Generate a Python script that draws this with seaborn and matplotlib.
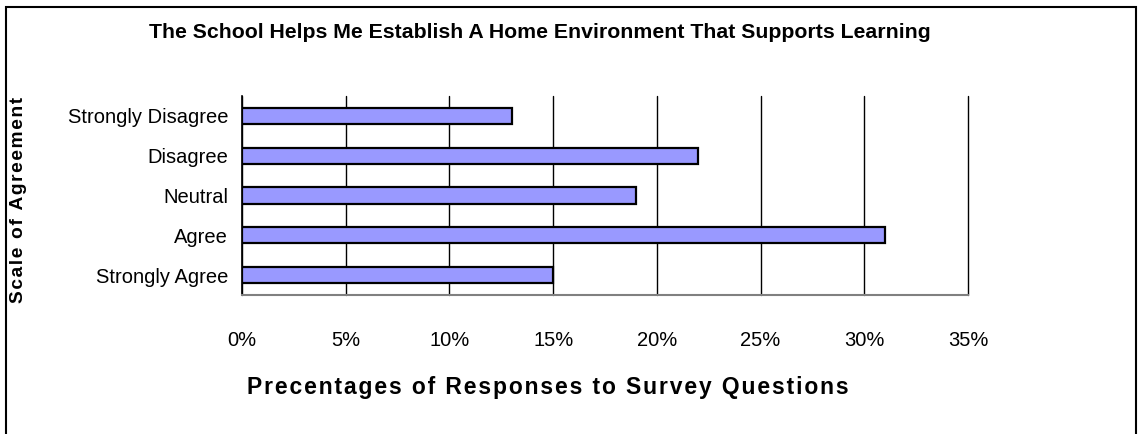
import numpy as np
import pandas as pd
import seaborn as sns
import matplotlib.pyplot as plt
from matplotlib.patches import Rectangle
from matplotlib.ticker import FixedLocator

categories = ["Strongly Disagree", "Disagree", "Neutral", "Agree", "Strongly Agree"]
percentages = [13, 22, 19, 31, 15]
x_ticks = [0, 5, 10, 15, 20, 25, 30, 35]
x_tick_labels = ["0%", "5%", "10%", "15%", "20%", "25%", "30%", "35%"]

df = pd.DataFrame({"category": categories, "pct": percentages})

sns.set_style("white")
plt.rcParams['font.family'] = ['Liberation Sans', 'DejaVu Sans']
plt.rcParams['text.color'] = 'black'
plt.rcParams['axes.labelcolor'] = 'black'


def spaced(s):
    # mimic the loose letter spacing of the original labels
    return "\u200a".join(s)


fig = plt.figure(figsize=(11.38, 4.34), dpi=100)
ax = fig.add_axes([0.2127, 0.3203, 0.8506 - 0.2127, 0.7788 - 0.3203])

sns.barplot(data=df, y="category", x="pct", orient="h", order=categories,
            color="#9999FF", saturation=1, width=0.41,
            edgecolor="black", linewidth=1.6, ax=ax, zorder=3)

ax.set_xlim(0, 35)
ax.set_ylim(4.5, -0.5)
ax.set_xticks(x_ticks)
ax.set_xticklabels(x_tick_labels, fontsize=14.5)
ax.tick_params(axis="x", length=5, width=1, color="#808080", pad=21, labelcolor="black")

# category labels, ticks on the boundaries between bars
ax.set_yticks(range(len(categories)))
ax.set_yticklabels(categories, fontsize=14.5)
ax.tick_params(axis="y", which="major", length=0, pad=10, labelcolor="black")
ax.yaxis.set_minor_locator(FixedLocator(np.arange(-0.5, 4.6, 1.0)))
ax.tick_params(axis="y", which="minor", length=5, width=1, color="black")

ax.grid(axis="x", color="black", linewidth=1, zorder=0)
for gl in ax.get_xgridlines():
    gl.set_clip_on(False)
for s in ["top", "right"]:
    ax.spines[s].set_visible(False)
ax.spines["left"].set_color("black")
ax.spines["left"].set_linewidth(1.2)
ax.spines["bottom"].set_color("#808080")
ax.spines["bottom"].set_linewidth(1.5)

ax.set_xlabel("")
ax.set_ylabel("")
fig.text(0.4816, 0.108, spaced("Precentages of Responses to Survey Questions"),
         fontsize=16.5, fontweight="bold", ha="center", va="center")
fig.text(0.016, 0.54, spaced("Scale of Agreement"), rotation=90,
         fontsize=13.8, fontweight="bold", ha="center", va="center")
fig.text(0.474, 0.926, "The School Helps Me Establish A Home Environment That Supports Learning",
         fontsize=15.3, fontweight="bold", ha="center", va="center")

fig.patches.append(Rectangle((0.005, -0.05), 0.993, 1.034, transform=fig.transFigure,
                             fill=False, edgecolor="black", linewidth=1.5))

fig.savefig("out.png", dpi=100)
